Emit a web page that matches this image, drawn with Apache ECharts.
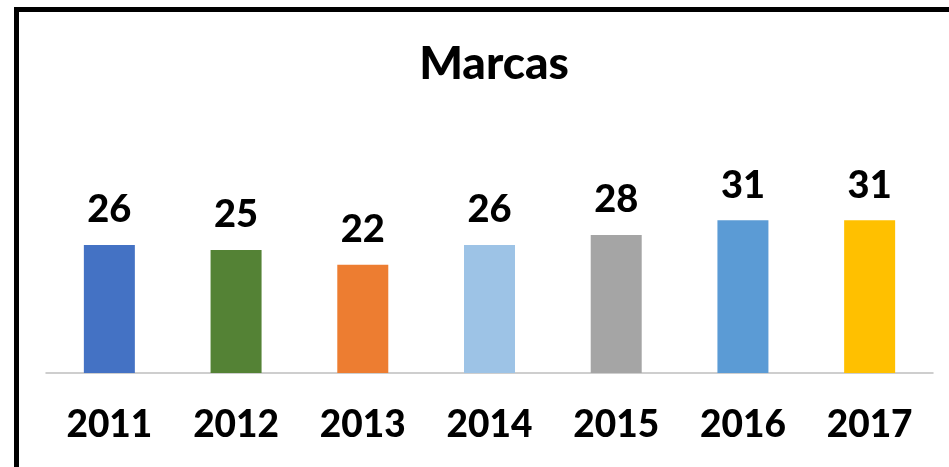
<!DOCTYPE html>
<html>
<head>
<meta charset="utf-8">
<script src="https://cdn.jsdelivr.net/npm/echarts@6/dist/echarts.min.js"></script>
<style>
html, body { margin: 0; padding: 0; background: #fff; }
#chart { width: 949px; height: 467px; }
</style>
</head>
<body>
<div id="chart"></div>
<script>
var years = ['2011', '2012', '2013', '2014', '2015', '2016', '2017'];
var marcas = [26, 25, 22, 26, 28, 31, 31];
var barColors = ['#4472C4', '#548235', '#ED7D31', '#9DC3E6', '#A5A5A5', '#5B9BD5', '#FFC000'];

var chart = echarts.init(document.getElementById('chart'));

function makeData() {
    var d = [];
    for (var i = 0; i < marcas.length; i++) {
        d.push({ value: marcas[i], itemStyle: { color: barColors[i] } });
    }
    return d;
}

var option = {
    backgroundColor: '#fff',
    animation: false,
    textStyle: { fontFamily: 'Lato' },
    graphic: [{
        type: 'rect',
        shape: { x: 16.5, y: 9.5, width: 1000, height: 1000 },
        style: { fill: 'none', stroke: '#000', lineWidth: 5 }
    }],
    title: {
        text: 'Marcas',
        left: 489,
        textAlign: 'center',
        top: 36,
        textStyle: { fontFamily: 'Lato', fontWeight: 900, fontSize: 46, color: '#000' }
    },
    grid: { left: 46, right: 16, top: 176, bottom: 94 },
    xAxis: {
        type: 'category',
        data: years,
        axisTick: { show: false },
        axisLine: { lineStyle: { color: '#BFBFBF', width: 1.5 } },
        axisLabel: { color: '#000', fontFamily: 'Lato', fontWeight: 900, fontSize: 37, margin: 34 }
    },
    yAxis: {
        type: 'value',
        min: 0,
        max: 40,
        show: false,
        splitLine: { show: false }
    },
    series: [{
        type: 'bar',
        data: makeData(),
        barWidth: 51,
        label: {
            show: true,
            position: 'top',
            distance: 16,
            color: '#000',
            fontFamily: 'Lato',
            fontWeight: 900,
            fontSize: 38
        }
    }]
};

chart.setOption(option);
</script>
</body>
</html>
